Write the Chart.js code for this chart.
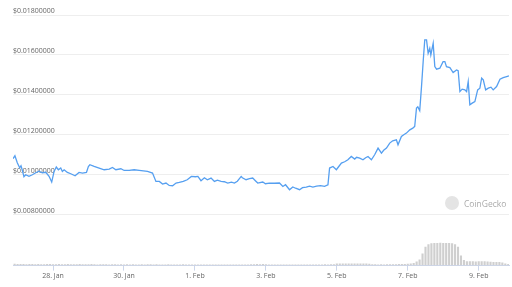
<!DOCTYPE html>
<html>
<head>
<meta charset="utf-8">
<script src="https://cdn.jsdelivr.net/npm/chart.js@4.4.0/dist/chart.umd.min.js"></script>
<style>
  html, body { margin: 0; padding: 0; background: #fff; }
  #wrap { position: relative; width: 512px; height: 287px; }
  #brand {
    position: absolute; left: 445px; top: 196px;
    font-family: 'Open Sans', sans-serif; font-size: 8.5px; color: #ababab;
    display: flex; align-items: center;
  }
  #brand .logo {
    width: 14px; height: 14px; border-radius: 50%;
    background: #e4e4e4; margin-right: 5px; display: inline-block;
  }
</style>
</head>
<body>
<div id="wrap">
  <canvas id="price-chart" width="512" height="287"></canvas>
  <div id="brand"><span class="logo"></span>CoinGecko</div>
</div>
<script>
// hours since 28 Jan 00:00
const priceHours = [
  -27.1, -25.8, -24.2, -22.6, -21.7, -20.7, -19.7, -18.5, -16.3, -14.0,
  -11.7, -9.5, -7.3, -4.9, -2.7, -0.9, 0.7, 2.2, 3.6, 5.2,
  6.3, 7.5, 9.7, 12.0, 14.9, 17.6, 19.9, 22.6, 23.9, 24.9,
  27.8, 31.2, 34.6, 38.0, 40.2, 42.5, 45.9, 48.1, 51.5, 54.9,
  58.3, 63.9, 67.3, 69.6, 71.9, 74.1, 76.4, 78.6, 80.9, 83.2,
  85.4, 88.1, 90.8, 93.6, 96.3, 98.0, 100.1, 102.4, 104.4, 106.9,
  109.2, 111.2, 113.7, 115.9, 118.2, 120.7, 122.7, 124.7, 127.3, 128.1,
  130.6, 132.9, 135.1, 136.9, 138.5, 141.9, 143.7, 146.4, 149.8, 153.2,
  155.5, 157.3, 160.0, 162.2, 164.1, 166.8, 168.8, 171.3, 173.6, 175.8,
  178.3, 181.0, 183.7, 186.0, 187.1, 189.4, 191.7, 193.2, 195.1, 197.3,
  199.5, 201.8, 204.1, 205.4, 207.5, 209.7, 211.5, 213.1, 215.4, 217.6,
  219.9, 222.2, 223.7, 225.6, 227.8, 229.8, 232.3, 233.4, 235.7, 237.3,
  239.1, 241.4, 243.4, 244.7, 245.9, 246.8, 248.1, 249.3, 250.5, 251.5,
  252.7, 253.8, 254.9, 255.6, 257.2, 258.3, 259.5, 261.7, 263.9, 265.1,
  266.2, 268.5, 270.7, 273.0, 274.1, 275.3, 276.8, 278.6, 279.8, 280.9,
  282.0, 283.6, 285.4, 287.3, 288.8, 290.0, 291.1, 292.7, 294.5, 296.3,
  297.8, 300.1, 302.4, 304.6, 306.9, 308.5
];

const prices = [
  0.0108, 0.01095, 0.0106, 0.01035, 0.01045, 0.0102, 0.0099, 0.0100, 0.009925, 0.0100,
  0.0101, 0.010175, 0.0101, 0.010125, 0.009925, 0.009635, 0.010165, 0.010385, 0.01025, 0.010335,
  0.010165, 0.01025, 0.010115, 0.01005, 0.00995, 0.010115, 0.010085, 0.010115, 0.010415, 0.0105,
  0.010415, 0.010335, 0.01025, 0.010285, 0.010365, 0.01025, 0.0103, 0.010215, 0.010215, 0.01025,
  0.010215, 0.010165, 0.010085, 0.009665, 0.009665, 0.009535, 0.009585, 0.009465, 0.00945, 0.009585,
  0.009615, 0.009665, 0.00975, 0.009915, 0.0099, 0.009915, 0.0097, 0.00985, 0.00975, 0.009835,
  0.009665, 0.009725, 0.009665, 0.00965, 0.009585, 0.009625, 0.009585, 0.009675, 0.009915, 0.00985,
  0.00975, 0.0098, 0.009835, 0.0097, 0.009585, 0.009635, 0.00955, 0.009585, 0.009575, 0.009585,
  0.009415, 0.0095, 0.00925, 0.009385, 0.009325, 0.00925, 0.00935, 0.009385, 0.009425, 0.009385,
  0.009425, 0.00945, 0.009415, 0.0095, 0.010335, 0.010415, 0.01025, 0.0104, 0.010585, 0.01065,
  0.01075, 0.010915, 0.010785, 0.010875, 0.010835, 0.01075, 0.01085, 0.010915, 0.01075, 0.011,
  0.011335, 0.011085, 0.011225, 0.011335, 0.011585, 0.0117, 0.01175, 0.0115, 0.011915, 0.012,
  0.012085, 0.01225, 0.012335, 0.012415, 0.013335, 0.0134, 0.013215, 0.014415, 0.01575, 0.01675,
  0.01675, 0.016085, 0.016335, 0.016, 0.016585, 0.015415, 0.015285, 0.015335, 0.015665, 0.015665,
  0.015415, 0.015365, 0.015115, 0.01525, 0.015215, 0.014165, 0.014285, 0.01425, 0.014165, 0.014665,
  0.0135, 0.013585, 0.013665, 0.01425, 0.014335, 0.014835, 0.01475, 0.01425, 0.014335, 0.014385,
  0.01425, 0.014415, 0.014785, 0.014865, 0.014915, 0.01495
];

// volume bars, one every 2 hours starting at -26h
const volStartHour = -26;
const volStepHours = 2;
const volumes = [
  18, 16, 15, 17, 14, 15, 16, 14, 15, 13, 14, 15,
  16, 14, 13, 15, 14, 13, 15, 14, 13, 14, 15, 13,
  14, 13, 15, 14, 12, 13, 14, 13, 12, 14, 13, 12,
  13, 12, 14, 12, 13, 12, 11, 13, 12, 14, 13, 12,
  13, 12, 11, 12, 13, 11, 12, 11, 12, 13, 12, 11,
  12, 11, 12, 11, 10, 12, 11, 12, 11, 10, 11, 12,
  11, 12, 11, 10, 11, 12, 11, 12, 13, 14, 15, 14,
  15, 13, 12, 11, 12, 11, 12, 11, 10, 11, 12, 11,
  12, 11, 12, 11, 12, 11, 12, 11, 12, 13, 12, 13,
  13, 20, 21, 20, 21, 22, 21, 20, 21, 22, 21, 20,
  19, 14, 13, 12, 13, 12, 13, 14, 13, 14, 15, 16,
  17, 18, 20, 25, 40, 60, 120, 190, 215, 225, 227, 226,
  228, 227, 226, 227, 225, 215, 190, 100, 55, 43, 44, 43,
  42, 43, 44, 43, 42, 38, 37, 37, 36, 30, 22, 17
];

const tickHours = [0, 48, 96, 144, 192, 240, 288];
const tickLabels = ['28. Jan', '30. Jan', '1. Feb', '3. Feb', '5. Feb', '7. Feb', '9. Feb'];
const priceTicks = [0.008, 0.010, 0.012, 0.014, 0.016, 0.018];

const font = { family: "'Open Sans', sans-serif", size: 7 };

const ctx = document.getElementById('price-chart').getContext('2d');
const priceChart = new Chart(ctx, {
  type: 'line',
  data: {
    datasets: [{
      type: 'line',
      label: 'Price',
      data: priceHours.map((h, i) => ({ x: h, y: prices[i] })),
      borderColor: '#559ff0',
      borderWidth: 1.3,
      pointRadius: 0,
      tension: 0,
      yAxisID: 'y',
      order: 0
    }, {
      type: 'bar',
      label: 'Volume',
      data: volumes.map((v, i) => ({ x: volStartHour + i * volStepHours, y: v })),
      backgroundColor: '#cfcfcf',
      barPercentage: 1,
      categoryPercentage: 0.72,
      yAxisID: 'yv',
      order: 1
    }]
  },
  options: {
    responsive: false,
    animation: false,
    devicePixelRatio: 1,
    layout: { padding: { left: 13, right: 3, top: 15, bottom: 6 } },
    plugins: { legend: { display: false }, tooltip: { enabled: false } },
    scales: {
      x: {
        type: 'linear',
        offset: false,
        min: priceHours[0],
        max: priceHours[priceHours.length - 1],
        afterBuildTicks: axis => { axis.ticks = tickHours.map(v => ({ value: v })); },
        ticks: {
          callback: v => tickLabels[tickHours.indexOf(v)],
          font: font,
          color: '#666',
          maxRotation: 0,
          autoSkip: false,
          padding: 1
        },
        grid: { drawOnChartArea: false, drawTicks: true, tickLength: 5, color: '#ccd6eb', offset: false },
        border: { color: '#ccd6eb' }
      },
      y: {
        position: 'left',
        min: 0.00545,
        max: 0.018,
        afterBuildTicks: axis => { axis.ticks = priceTicks.map(v => ({ value: v })); },
        ticks: {
          mirror: true,
          padding: 0,
          labelOffset: -4,
          callback: v => '$' + v.toFixed(8),
          font: font,
          color: '#666'
        },
        grid: { color: '#eeeeee', drawTicks: false },
        border: { display: false }
      },
      yv: {
        display: false,
        min: 0,
        max: 2510
      }
    }
  }
});
</script>
</body>
</html>
